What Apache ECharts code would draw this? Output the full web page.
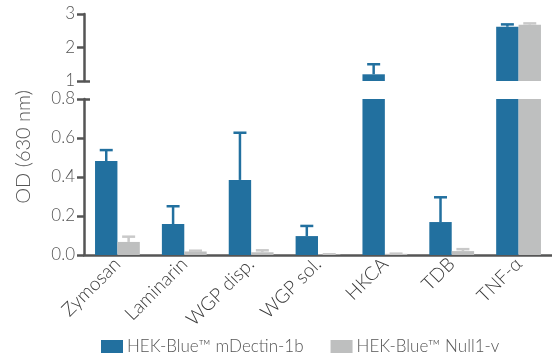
<!DOCTYPE html>
<html><head><meta charset="utf-8">
<script src="https://cdn.jsdelivr.net/npm/echarts@6/dist/echarts.min.js"></script>
<style>html,body{margin:0;padding:0;background:#fff}#c{width:552px;height:362px}</style>
</head><body><div id="c"></div>
<script>
const categories = ['Zymosan','Laminarin','WGP disp.','WGP sol.','HKCA','TDB','TNF-α'];
const mDectinValues = [0.482, 0.159, 0.385, 0.097, 1.20, 0.169, 2.62];
const mDectinUpper  = [0.538, 0.250, 0.627, 0.149, 1.50, 0.296, 2.69];
const null1Values   = [0.067, 0.018, 0.014, 0.003, 0.006, 0.020, 2.68];
const null1Upper    = [0.094, 0.022, 0.024, 0.004, 0.007, 0.030, 2.72];
const lowerTicks = [0, 0.2, 0.4, 0.6, 0.8];
const upperTicks = [1, 2, 3];

const BLUE = '#22709f', GRAY = '#bebfbf', AX = '#555555';
const FONT = 'Lato';
const W = 300;
const chart = echarts.init(document.getElementById('c'), null, {renderer:'canvas'});

function errSeries(name, values, upper, side, color, gridIdx) {
  return {
    type: 'custom', name: name, xAxisIndex: gridIdx, yAxisIndex: gridIdx, z: 5,
    clip: true,
    data: values.map((v, i) => [i, v, upper[i]]),
    renderItem: function (params, api) {
      const cs = params.coordSys;
      const band = api.size([1, 0])[0];
      const xc = api.coord([api.value(0), 0])[0] + side * band * 0.1675;
      const yb = api.coord([0, api.value(1)])[1];
      const yt = api.coord([0, api.value(2)])[1];
      if (yt < cs.y - 1 || yb > cs.y + cs.height + 1) return null;
      const half = 6.5;
      return {
        type: 'group',
        children: [
          {type:'line', shape:{x1:xc, y1:Math.min(yb, cs.y+cs.height), x2:xc, y2:yt}, style:{stroke:color, lineWidth:2.5}},
          {type:'line', shape:{x1:xc-half, y1:yt, x2:xc+half, y2:yt}, style:{stroke:color, lineWidth:2.5}}
        ]
      };
    }
  };
}

const axisCommon = {
  axisLine: {show:true, lineStyle:{color:AX, width:2.5}},
  axisTick: {show:true, length:7, lineStyle:{color:AX, width:2.5}},
  splitLine: {show:false},
  axisLabel: {color:AX, fontFamily:FONT, fontWeight:W, fontSize:17, margin:9}
};
function breakCapAxis(gridIdx, min, max, at) {
  return {type:'value', gridIndex:gridIdx, min:min, max:max, position:'left',
    axisLine:{show:false}, splitLine:{show:false}, axisLabel:{show:false},
    axisTick:{show:true, inside:true, length:6, customValues:[at], lineStyle:{color:AX, width:2.5}}};
}

const option = {
  animation: false,
  backgroundColor: '#fff',
  textStyle: {fontFamily: FONT, fontWeight: W},
  grid: [
    {left:84, top:14, width:474, height:67},
    {left:84, top:99, width:474, height:156}
  ],
  xAxis: [
    {type:'category', gridIndex:0, data:categories, show:false},
    {type:'category', gridIndex:1, data:categories,
     axisLine:{show:true, lineStyle:{color:AX, width:2.5}},
     axisTick:{show:false},
     axisLabel:{rotate:45, color:'#3a3a3a', fontFamily:FONT, fontWeight:W, fontSize:19, margin:6, interval:0}}
  ],
  yAxis: [
    Object.assign({type:'value', gridIndex:0, min:upperTicks[0], max:upperTicks[upperTicks.length-1], interval:1}, axisCommon,
      {axisLabel:Object.assign({}, axisCommon.axisLabel, {formatter: v => String(v)})}),
    Object.assign({type:'value', gridIndex:1, min:lowerTicks[0], max:lowerTicks[lowerTicks.length-1], interval:0.2}, axisCommon,
      {axisLabel:Object.assign({}, axisCommon.axisLabel, {formatter: v => v.toFixed(1)})}),
    breakCapAxis(0, upperTicks[0], upperTicks[upperTicks.length-1], upperTicks[0]),
    breakCapAxis(1, lowerTicks[0], lowerTicks[lowerTicks.length-1], lowerTicks[lowerTicks.length-1])
  ],
  legend: {
    left: 96, bottom: 2, itemWidth: 22, itemHeight: 13, itemGap: 27,
    icon: 'rect',
    textStyle: {color: AX, fontFamily: FONT, fontWeight: W, fontSize: 17, padding:[0,0,0,-1]},
    data: ['HEK-Blue™ mDectin-1b', 'HEK-Blue™ Null1-v']
  },
  graphic: [{
    type:'text', left: 14, top: 90, rotation: Math.PI/2,
    style:{text:'OD (630 nm)', fill:AX, font:'300 20px Lato'}
  }],
  series: [
    {type:'bar', name:'HEK-Blue™ mDectin-1b', xAxisIndex:1, yAxisIndex:1, data:mDectinValues, itemStyle:{color:BLUE}, barGap:'0%', barCategoryGap:'33%', clip:true},
    {type:'bar', name:'HEK-Blue™ Null1-v', xAxisIndex:1, yAxisIndex:1, data:null1Values, itemStyle:{color:GRAY}, barGap:'0%', barCategoryGap:'33%', clip:true},
    {type:'bar', name:'HEK-Blue™ mDectin-1b', xAxisIndex:0, yAxisIndex:0, data:mDectinValues, itemStyle:{color:BLUE}, barGap:'0%', barCategoryGap:'33%', clip:true},
    {type:'bar', name:'HEK-Blue™ Null1-v', xAxisIndex:0, yAxisIndex:0, data:null1Values, itemStyle:{color:GRAY}, barGap:'0%', barCategoryGap:'33%', clip:true},
    errSeries('errA1', mDectinValues, mDectinUpper, -1, BLUE, 1),
    errSeries('errB1', null1Values, null1Upper, 1, '#c9c9c9', 1),
    errSeries('errA0', mDectinValues, mDectinUpper, -1, BLUE, 0),
    errSeries('errB0', null1Values, null1Upper, 1, '#c9c9c9', 0)
  ]
};
chart.setOption(option);
</script></body></html>
